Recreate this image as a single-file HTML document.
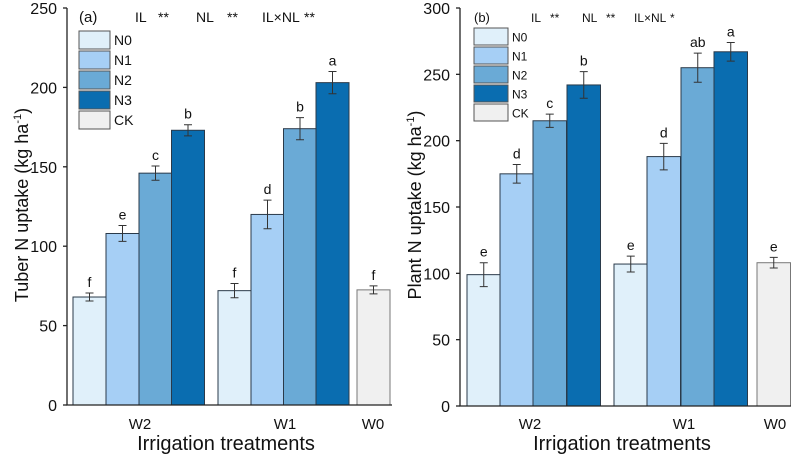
<!DOCTYPE html>
<html><head><meta charset="utf-8"><style>
body{margin:0;background:#fff}
svg{display:block;font-family:"Liberation Sans",sans-serif}
</style></head><body>
<svg id="c" width="794" height="454" viewBox="0 0 794 454" xmlns="http://www.w3.org/2000/svg"></svg>
<script>
const levels=["N0","N1","N2","N3","CK"];
const colors=["#e0f0fa","#a6cff5","#6aaad6","#0a6db0","#f0f0f0"];
const groups=["W2","W1","W0"];
const aVals=[68,108,146,173,72,120,174,203,72.5];
const aErr=[2.5,5,4.5,3.5,4.5,9,7,7,2.5];
const aLet=["f","e","c","b","f","d","b","a","f"];
const aTicks=[0,50,100,150,200,250];
const bVals=[99,175,215,242,107,188,255,267,108];
const bErr=[9,7,5,10,6,10,11,7,4];
const bLet=["e","d","c","b","e","d","ab","a","e"];
const bTicks=[0,50,100,150,200,250,300];
const barLevel=[0,1,2,3,0,1,2,3,4];
const svg=document.getElementById('c');
const NS="http://www.w3.org/2000/svg";
function mk(t,at,txt){const e=document.createElementNS(NS,t);for(const k in at)e.setAttribute(k,at[k]);if(txt!==undefined)e.textContent=txt;svg.appendChild(e);return e;}
function panel(P){
  const y=v=>P.y0-(v/P.max)*(P.y0-P.y1);
  P.vals.forEach((v,i)=>{
    const x=P.bx[i];
    const r=mk('rect',{x:x,y:y(v),width:P.bw,height:P.y0-y(v),fill:colors[barLevel[i]],stroke:i==8?'#777':'#2a3a4a','stroke-width':1});
    
    
    const cx=x+P.bw/2,t=y(v+P.err[i]),b=y(v-P.err[i]);
    const e=mk('path',{d:`M${cx},${t}V${b}M${cx-4},${t}H${cx+4}M${cx-4},${b}H${cx+4}`,stroke:'#333','stroke-width':1,fill:'none'});
    
    
    const l=mk('text',{x:cx,y:t-6,'text-anchor':'middle','font-size':14,fill:'#111'},P.let[i]);
    
    
  });
  mk('path',{d:`M${P.ax},${P.y1}V${P.y0}H${P.xr}`,stroke:'#222','stroke-width':1.3,fill:'none'});
  P.ticks.forEach(v=>{
    mk('line',{x1:P.ax-4,x2:P.ax,y1:y(v),y2:y(v),stroke:'#222','stroke-width':1.3});
    const t=mk('text',{x:P.ax-10,y:y(v)+6,'text-anchor':'end','font-size':16,fill:'#111'},v);
    
    
  });
  groups.forEach((g,i)=>{const t=mk('text',{x:P.gx[i],y:429,'text-anchor':'middle','font-size':15,fill:'#111'},g);
    
    });
  const xt=mk('text',{x:P.xtc,y:450,'text-anchor':'middle','font-size':20,fill:'#111'},'Irrigation treatments');
  
  
  const yt=mk('text',{x:0,y:0,transform:`translate(${P.ytx},205) rotate(-90)`,'text-anchor':'middle','font-size':18,fill:'#111'});
  yt.innerHTML=P.ytitle+' (kg ha<tspan dy="-7" font-size="11">-1</tspan><tspan dy="7">)</tspan>';
  
  
  levels.forEach((n,i)=>{
    const r=mk('rect',{x:P.lx,y:P.ly+i*P.lh,width:P.lw,height:P.lh-2,fill:colors[i],stroke:'#555'});
    
    
    const t=mk('text',{x:P.lx+P.lw+4,y:P.ly+i*P.lh+P.lh/2+4,'font-size':P.lf,fill:'#111'},n);
    
    
  });
  const pl=mk('text',{x:P.lx,y:22,'font-size':P.lf+1,fill:'#111'},P.tag);
  
  
  P.sig.forEach(s=>{const t=mk('text',{x:s[0],y:22,'font-size':P.lf,fill:'#111'},s[1]);
    
    });
}
const bxa=[73,106,139,171.5,218,251,283.5,316,357];
const bxb=[467,500,533,567,614,647,681,714,757];
panel({id:'a',vals:aVals,err:aErr,let:aLet,ticks:aTicks,max:250,y0:405,y1:8,ax:67,xr:392,bx:bxa,bw:33,
  gx:[140,285,373],xtc:226,ytx:28,ytitle:'Tuber N uptake',lx:79,ly:31,lh:20,lw:31,lf:14,tag:'(a)',
  sig:[[135,'IL'],[158,'**'],[196,'NL'],[227,'**'],[262,'IL×NL'],[304,'**']]});
panel({id:'b',vals:bVals,err:bErr,let:bLet,ticks:bTicks,max:300,y0:406,y1:8,ax:460,xr:791,bx:bxb,bw:33.5,
  gx:[530,684,775],xtc:622,ytx:421,ytitle:'Plant N uptake',lx:474,ly:28,lh:19,lw:34,lf:12,tag:'(b)',
  sig:[[531,'IL'],[550,'**'],[582,'NL'],[606,'**'],[634,'IL×NL'],[670,'*']]});
</script>
</body></html>
